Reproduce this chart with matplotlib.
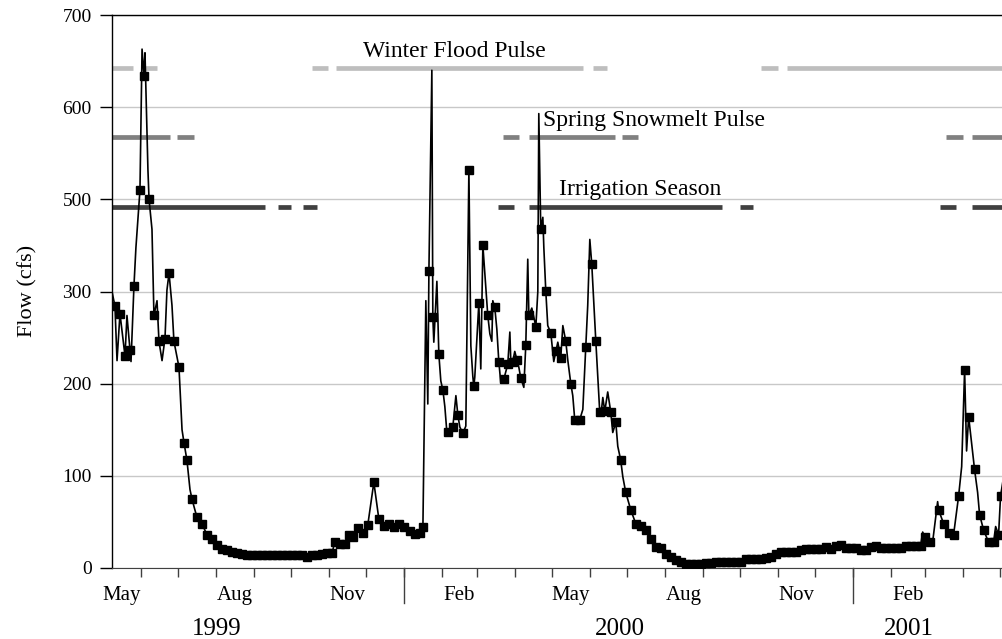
import matplotlib

matplotlib.use("Agg")
import matplotlib.pyplot as plt
import matplotlib.dates as mdates
import matplotlib.transforms as mtransforms
import numpy as np
from datetime import date, timedelta

plt.rcParams["font.family"] = ["Liberation Serif", "DejaVu Serif"]

START = date(1999, 5, 8)

# flow record: days after START, flow (cfs), 1 where a sample square is shown
day = [
    0, 2.4, 4.1, 6.5, 10.6, 12.2, 14.7, 15.5, 17.9, 19.5, 22.8, 24.5, 26.1, 26.9,
    29.3, 30.2, 32.6, 33.5, 34.2, 36.7, 38.3, 40.8, 43.2, 44.8, 46.5, 48.9, 50.5,
    54.6, 57.1, 58.7, 61.1, 63.6, 65.2, 67.6, 69.3, 73.4, 77.4, 81.5, 85.6, 89.7,
    93.7, 97.8, 101.9, 106.0, 110.0, 114.1, 118.2, 122.3, 126.3, 130.4, 134.5,
    138.6, 142.6, 146.7, 150.8, 154.9, 158.9, 163.0, 167.1, 171.2, 175.2, 179.3,
    181.7, 185.8, 189.9, 193.2, 196.4, 200.5, 204.6, 208.6, 213.5, 217.6, 221.7,
    225.8, 229.8, 233.9, 238.0, 242.9, 247.0, 251.0, 253.5, 255.9, 257.5, 258.4,
    260.8, 261.6, 262.4, 264.9, 266.5, 268.1, 269.8, 271.4, 273.0, 273.8, 277.9,
    280.4, 282.0, 283.6, 286.1, 288.5, 291.0, 292.6, 294.2, 295.0, 295.8, 299.1,
    300.7, 302.4, 306.4, 308.1, 309.7, 310.5, 312.1, 313.8, 315.4, 317.0, 319.5,
    321.1, 322.7, 324.4, 325.2, 326.8, 328.4, 330.1, 331.7, 333.3, 335.8, 337.4,
    339.0, 339.9, 342.3, 345.6, 347.2, 348.0, 349.6, 351.3, 352.1, 353.7, 355.3,
    357.8, 360.2, 361.9, 363.5, 365.9, 367.6, 370.0, 371.6, 374.1, 375.7, 377.3,
    381.4, 383.9, 386.3, 387.9, 389.6, 391.2, 394.5, 396.1, 397.7, 399.4, 400.2,
    401.8, 404.2, 406.7, 408.3, 410.8, 412.4, 414.8, 416.5, 418.9, 423.0, 427.1,
    431.1, 435.2, 439.3, 443.4, 447.4, 451.5, 455.6, 459.7, 463.7, 467.8, 471.9,
    476.0, 480.0, 484.1, 488.2, 492.3, 496.3, 500.4, 504.5, 508.6, 512.6, 516.7,
    520.8, 524.9, 528.9, 533.0, 537.1, 541.2, 545.2, 549.3, 553.4, 557.5, 561.5,
    565.6, 569.7, 573.8, 577.8, 581.9, 586.0, 590.1, 594.1, 598.2, 602.3, 606.4,
    610.4, 614.5, 618.6, 622.7, 626.7, 630.8, 634.9, 639.0, 643.0, 647.1, 651.2,
    655.3, 659.3, 661.0, 662.6, 666.7, 669.1, 673.2, 674.0, 678.1, 682.2, 686.2,
    690.3, 692.8, 695.2, 696.8, 698.5, 700.9, 703.3, 705.8, 707.4, 710.7, 714.8,
    718.8, 720.5, 722.9, 724.5, 727.0,
]
flow = [
    300, 284, 225, 276, 230, 274, 237, 224, 312, 395, 510, 663, 634, 659,
    532, 500, 435, 328, 274, 290, 246, 225, 249, 303, 340, 285, 246,
    218, 150, 136, 117, 85, 75, 63, 55, 48, 36, 31, 25, 21,
    19, 17, 16, 15, 14, 14, 14, 14, 14, 14, 14,
    14, 14, 14, 14, 14, 12, 14, 14, 15, 16, 16,
    28, 26, 26, 36, 34, 43, 38, 47, 93, 53, 46,
    48, 44, 48, 45, 40, 37, 38, 44, 290, 178, 344,
    640, 272, 245, 322, 232, 203, 193, 175, 148, 148, 153,
    187, 166, 153, 146, 154, 532, 241, 208, 197, 207, 287,
    216, 400, 274, 254, 246, 290, 283, 259, 224, 201, 205,
    213, 221, 256, 223, 224, 235, 226, 218, 206, 196, 242,
    370, 274, 282, 262, 300, 593, 435, 461, 396, 301, 263,
    255, 224, 235, 245, 228, 263, 246, 226, 200, 187, 161,
    161, 172, 240, 285, 413, 359, 246, 208, 169, 175, 185,
    170, 191, 169, 147, 158, 132, 117, 99, 82, 63, 48,
    46, 41, 31, 23, 22, 15, 12, 9, 6, 4, 4,
    4, 4, 5, 5, 7, 7, 7, 7, 7, 7, 10,
    10, 10, 10, 11, 12, 15, 17, 17, 17, 17, 19,
    21, 21, 21, 21, 23, 21, 24, 25, 22, 22, 22,
    20, 19, 23, 24, 22, 22, 22, 22, 22, 24, 24,
    24, 24, 39, 34, 28, 28, 72, 63, 48, 38, 36,
    78, 110, 215, 127, 164, 136, 107, 82, 58, 41, 28,
    28, 45, 36, 78, 99,
]
sampled = [
    0, 1, 0, 1, 1, 0, 1, 0, 1, 0, 1, 0, 1, 0,
    0, 1, 0, 0, 1, 0, 1, 0, 1, 0, 1, 0, 1,
    1, 0, 1, 1, 0, 1, 0, 1, 1, 1, 1, 1, 1,
    1, 1, 1, 1, 1, 1, 1, 1, 1, 1, 1,
    1, 1, 1, 1, 1, 1, 1, 1, 1, 1, 1,
    1, 1, 1, 1, 1, 1, 1, 1, 1, 1, 1,
    1, 1, 1, 1, 1, 1, 1, 1, 0, 0, 1,
    0, 1, 0, 0, 1, 0, 1, 0, 0, 1, 1,
    0, 1, 0, 1, 0, 1, 0, 0, 1, 0, 1,
    0, 1, 1, 0, 0, 0, 1, 0, 1, 0, 1,
    0, 1, 0, 0, 1, 0, 1, 0, 1, 0, 1,
    0, 1, 0, 1, 0, 0, 1, 0, 0, 1, 0,
    1, 0, 1, 0, 1, 0, 1, 0, 1, 0, 1,
    1, 0, 1, 0, 0, 1, 1, 0, 1, 0, 0,
    1, 0, 1, 0, 1, 0, 1, 0, 1, 1, 1,
    1, 1, 1, 1, 1, 1, 1, 1, 1, 1, 1,
    1, 1, 1, 1, 1, 1, 1, 1, 1, 1, 1,
    1, 1, 1, 1, 1, 1, 1, 1, 1, 1, 1,
    1, 1, 1, 1, 1, 1, 1, 1, 1, 1, 1,
    1, 1, 1, 1, 1, 1, 1, 1, 1, 1, 1,
    1, 1, 0, 1, 1, 0, 0, 1, 1, 1, 1,
    1, 0, 1, 0, 1, 0, 1, 0, 1, 1, 1,
    1, 0, 1, 1, 0,
]

# season bars: (first day, last day) pieces, drawn at a fixed flow level
winter_spans = [("1999-05-01", "1999-05-25"), ("1999-06-01", "1999-06-14"),
                ("1999-10-18", "1999-10-31"), ("1999-11-07", "2000-05-26"),
                ("2000-06-03", "2000-06-15"), ("2000-10-18", "2000-11-01"),
                ("2000-11-08", "2001-06-01")]
spring_spans = [("1999-05-01", "1999-06-24"), ("1999-06-30", "1999-07-14"),
                ("2000-03-22", "2000-04-04"), ("2000-04-12", "2000-06-21"),
                ("2000-06-27", "2000-07-10"), ("2001-03-18", "2001-04-01"),
                ("2001-04-08", "2001-06-01")]
irrigation_spans = [("1999-05-01", "1999-09-10"), ("1999-09-20", "1999-10-01"),
                    ("1999-10-11", "1999-10-22"), ("2000-03-18", "2000-03-31"),
                    ("2000-04-12", "2000-09-16"), ("2000-10-01", "2000-10-12"),
                    ("2001-03-13", "2001-03-26"), ("2001-04-08", "2001-06-01")]
season_names = ["Winter Flood Pulse", "Spring Snowmelt Pulse", "Irrigation Season"]
season_levels = [643, 568, 483]
season_label_days = [279.5, 442, 431]
season_label_levels = [654, 580, 505]
season_colors = ["#bebebe", "#808080", "#404040"]

month_labels = ["May", "Aug", "Nov", "Feb", "May", "Aug", "Nov", "Feb"]
month_label_dates = ["1999-05-16", "1999-08-16", "1999-11-16", "2000-02-15",
                     "2000-05-16", "2000-08-16", "2000-11-16", "2001-02-15"]
years = ["1999", "2000", "2001"]
year_label_dates = ["1999-08-01", "2000-06-25", "2001-02-16"]
year_breaks = ["2000-01-01", "2001-01-01"]
yticks = [0, 100, 200, 300, 500, 600, 700]


# broken y scale: 300-500 takes the room of one 100 step
def fwd(v):
    v = np.asarray(v, dtype=float)
    return np.where(v <= 300, v / 100,
                    np.where(v <= 500, 3 + (v - 300) / 200, 4 + (v - 500) / 100))


def inv(u):
    u = np.asarray(u, dtype=float)
    return np.where(u <= 3, u * 100,
                    np.where(u <= 4, 300 + (u - 3) * 200, 500 + (u - 4) * 100))


W, H = 1003, 639
fig = plt.figure(figsize=(W / 100, H / 100), dpi=100)
ax = fig.add_axes([112 / W, 1 - 568 / H, (W - 112) / W, (568 - 15) / H])
ax.set_yscale("function", functions=(fwd, inv))

start = mdates.date2num(np.datetime64(START.isoformat()))
xs = start + np.array(day)

for spans, lvl, col in zip([winter_spans, spring_spans, irrigation_spans],
                           season_levels, season_colors):
    for a, b in spans:
        ax.plot([np.datetime64(a), np.datetime64(b)], [lvl, lvl], color=col,
                lw=3.4, solid_capstyle="butt", zorder=2)

for name, d, lvl in zip(season_names, season_label_days, season_label_levels):
    ax.text(start + d, lvl, name, ha="center", va="baseline", fontsize=17, zorder=4)

ax.plot(xs, flow, color="black", lw=1.2, marker="s", ms=5.1,
        markevery=[bool(s) for s in sampled], zorder=3)

ax.set_xlim(start, start + 726.5)
ax.set_ylim(0, 700)
ax.set_yticks(yticks)
ax.set_yticklabels([str(t) for t in yticks])
ax.yaxis.grid(True, color="#c8c8c8", lw=1)
ax.set_axisbelow(True)
ax.tick_params(axis="y", direction="out", length=8.6, width=1, pad=6, labelsize=14)

ax.set_xticks(mdates.date2num([np.datetime64(d) for d in month_label_dates]))
ax.set_xticklabels(month_labels)
ax.tick_params(axis="x", which="major", length=0, pad=13, labelsize=15)
ax.xaxis.set_minor_locator(mdates.MonthLocator())
ax.tick_params(axis="x", which="minor", length=6.5, width=1, color="#404040")

trans = mtransforms.blended_transform_factory(ax.transData, ax.transAxes)
for d in year_breaks:
    x = mdates.date2num(np.datetime64(d))
    ax.plot([x, x], [0, -35 / 553], transform=trans, color="#404040", lw=1,
            clip_on=False)
for y, d in zip(years, year_label_dates):
    ax.text(mdates.date2num(np.datetime64(d)), -50 / 553, y, transform=trans,
            ha="center", va="top", fontsize=18)

ax.spines["right"].set_visible(False)
ax.spines["bottom"].set_color("#404040")
for s in ("left", "top"):
    ax.spines[s].set_linewidth(1)

fig.text(28 / W, 1 - 291 / H, "Flow (cfs)", rotation=90, ha="center",
         va="center", fontsize=16)

fig.savefig("out.png", dpi=100)
